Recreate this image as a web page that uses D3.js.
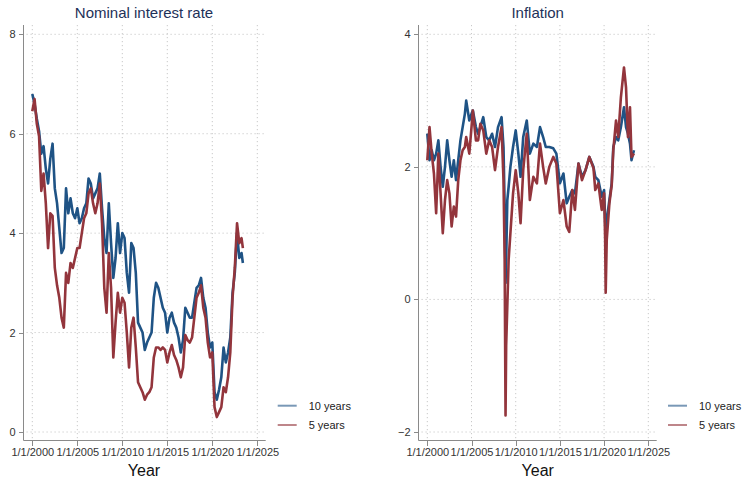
<!DOCTYPE html>
<html>
<head>
<meta charset="utf-8">
<script src="https://cdn.jsdelivr.net/npm/d3@7"></script>
<style>
  body { margin: 0; background: #fff; }
  text { font-family: "Liberation Sans", Arial, sans-serif; }
  .grid line { stroke: #c9c9c9; stroke-width: 1; stroke-dasharray: 1.2,2.8; }
  .axis path, .axis line { stroke: #8a8a8a; stroke-width: 1; shape-rendering: crispEdges; }
  .axis text { font-size: 11px; fill: #333; }
</style>
</head>
<body>
<div id="chart"></div>
<script>
// decimal years
var rateDates = [2000.00,2000.25,2000.50,2000.75,2001.00,2001.25,2001.50,2001.75,2002.00,2002.25,2002.50,2002.75,
  2003.00,2003.25,2003.50,2003.75,2004.00,2004.25,2004.50,2004.75,2005.00,2005.25,2005.50,2005.75,
  2006.00,2006.25,2006.50,2006.75,2007.00,2007.25,2007.50,2007.75,2008.00,2008.25,2008.50,2008.75,
  2009.00,2009.25,2009.50,2009.75,2010.00,2010.25,2010.50,2010.75,2011.00,2011.25,2011.50,2011.75,
  2012.00,2012.25,2012.50,2012.75,2013.00,2013.25,2013.50,2013.75,2014.00,2014.25,2014.50,2014.75,
  2015.00,2015.25,2015.50,2015.75,2016.00,2016.25,2016.50,2016.75,2017.00,2017.25,2017.50,2017.75,
  2018.00,2018.25,2018.50,2018.75,2019.00,2019.25,2019.50,2019.75,2020.00,2020.25,2020.50,2020.75,
  2021.00,2021.25,2021.50,2021.75,2022.00,2022.25,2022.50,2022.75,2023.00,2023.25,2023.40];
var rate10 = [6.80,6.60,6.30,6.05,5.60,5.75,5.30,5.00,5.50,5.80,4.90,4.60,
  4.10,3.60,3.70,4.90,4.40,4.70,4.40,4.30,4.50,4.20,4.30,4.50,
  4.60,5.10,5.00,4.70,4.80,4.90,5.20,4.50,3.90,3.60,4.60,3.80,
  3.10,3.50,4.20,3.60,4.00,3.90,3.20,2.80,3.80,3.70,3.20,2.20,
  2.10,2.00,1.65,1.80,1.90,2.00,2.70,3.00,2.90,2.70,2.50,2.40,
  2.00,2.30,2.40,2.20,2.10,1.90,1.60,1.85,2.50,2.40,2.30,2.30,
  2.60,2.90,2.95,3.10,2.70,2.50,2.00,1.70,1.80,0.80,0.65,0.85,
  1.10,1.70,1.40,1.60,1.90,2.80,3.20,4.00,3.50,3.60,3.40];
var rate5 = [6.45,6.70,6.20,5.95,4.85,5.20,4.60,3.70,4.40,4.35,3.30,2.95,
  2.70,2.30,2.10,3.20,3.00,3.40,3.30,3.50,3.70,3.70,4.00,4.30,
  4.40,4.80,4.90,4.60,4.40,4.60,5.00,4.20,2.90,2.40,3.60,2.90,
  1.50,2.20,2.80,2.40,2.70,2.60,2.00,1.30,2.10,2.30,1.70,1.00,
  0.90,0.80,0.65,0.75,0.80,0.90,1.50,1.70,1.70,1.65,1.70,1.65,
  1.40,1.60,1.75,1.55,1.45,1.30,1.10,1.30,1.95,1.85,1.80,1.90,
  2.30,2.70,2.80,2.95,2.50,2.30,1.80,1.50,1.60,0.50,0.30,0.40,
  0.50,0.90,0.80,1.10,1.60,2.70,3.30,4.20,3.80,3.90,3.70];

var inflDates = [2000.00,2000.25,2000.50,2000.75,2001.00,2001.25,2001.50,2001.75,2002.00,2002.25,2002.50,2002.75,
  2003.00,2003.25,2003.50,2003.75,2004.00,2004.25,2004.40,2004.75,2005.00,2005.15,2005.50,2005.75,
  2006.00,2006.33,2006.67,2007.00,2007.33,2007.66,2008.00,2008.40,2008.62,2008.75,2008.85,2008.92,
  2009.05,2009.20,2009.40,2009.70,2010.00,2010.30,2010.55,2010.85,2011.25,2011.60,2012.00,2012.40,
  2012.75,2013.10,2013.40,2013.80,2014.25,2014.60,2015.00,2015.40,2015.77,2016.06,2016.40,2016.70,
  2017.10,2017.50,2017.90,2018.33,2018.80,2019.00,2019.35,2019.73,2020.00,2020.12,2020.18,2020.30,
  2020.60,2020.86,2021.04,2021.35,2021.60,2021.90,2022.25,2022.48,2022.70,2022.93,2023.10,2023.38];
var infl10 = [2.50,2.10,2.25,2.10,2.20,2.40,2.00,1.70,2.00,2.40,2.10,1.85,
  2.10,1.80,2.10,2.40,2.60,2.80,3.00,2.70,2.80,2.85,2.60,2.50,
  2.60,2.75,2.45,2.40,2.50,2.30,2.60,2.75,2.30,1.40,0.25,0.60,
  1.50,1.70,2.00,2.30,2.55,2.20,1.85,2.45,2.70,2.20,2.35,2.30,
  2.60,2.45,2.30,2.30,2.28,2.20,1.75,1.90,1.45,1.55,1.65,1.60,
  2.05,1.85,1.95,2.15,2.00,1.85,1.80,1.55,1.65,1.20,0.85,1.20,
  1.50,1.75,2.30,2.45,2.40,2.60,2.90,2.60,2.50,2.35,2.10,2.25];
var infl5 = [2.10,2.60,2.20,1.90,1.30,2.20,1.60,1.00,1.50,1.80,1.60,1.10,
  1.40,1.25,1.80,2.10,2.25,2.30,2.45,2.20,2.60,2.85,2.40,2.40,
  2.65,2.55,2.20,2.40,2.30,1.95,2.30,2.60,1.80,0.60,-1.75,-0.70,
  -0.10,0.60,1.00,1.60,1.95,1.60,1.15,1.95,2.50,1.50,1.85,1.75,
  2.35,2.00,1.75,2.00,2.15,2.05,1.30,1.50,1.10,1.02,1.65,1.35,
  2.05,1.80,1.95,2.15,1.98,1.65,1.75,1.35,1.60,0.90,0.10,0.90,
  1.45,1.72,2.25,2.70,2.45,3.05,3.50,3.20,2.45,2.90,2.15,2.20];

var seriesNames = ["10 years", "5 years"];
var seriesColors = ["#1f5385", "#93353c"];
var xTickYears = [2000, 2005, 2010, 2015, 2020, 2025];

function toDate(y) {
  var yr = Math.floor(y);
  var start = new Date(yr, 0, 1), end = new Date(yr + 1, 0, 1);
  return new Date(start.getTime() + (y - yr) * (end - start));
}

var svg = d3.select("#chart").append("svg")
  .attr("width", 743).attr("height", 479);

function panel(opt) {
  var g = svg.append("g");
  var x = d3.scaleTime()
    .domain([new Date(2000, 0, 1), new Date(2025, 0, 1)])
    .range([opt.x0, opt.x1]);
  var y = d3.scaleLinear().domain(opt.yDomain).range([432, 34.3]);
  var top = 25, bottom = 440.5;

  // dotted grid
  var grid = g.append("g").attr("class", "grid");
  grid.selectAll("line.v").data(xTickYears).enter().append("line")
    .attr("x1", d => x(new Date(d, 0, 1))).attr("x2", d => x(new Date(d, 0, 1)))
    .attr("y1", top).attr("y2", bottom);
  grid.selectAll("line.h").data(opt.yTicks).enter().append("line")
    .attr("x1", opt.axisX + 3).attr("x2", opt.axisEnd)
    .attr("y1", d => y(d)).attr("y2", d => y(d));

  // lines: 10 years first, 5 years on top
  var line = d3.line().x(d => x(toDate(d[0]))).y(d => y(d[1]));
  [opt.s10, opt.s5].forEach(function (vals, i) {
    g.append("path")
      .datum(opt.dates.map((d, j) => [d, vals[j]]))
      .attr("fill", "none")
      .attr("stroke", seriesColors[i])
      .attr("stroke-width", 2.6)
      .attr("stroke-linejoin", "round")
      .attr("d", line);
  });

  // axes
  var yAxis = d3.axisLeft(y).tickValues(opt.yTicks).tickSize(5).tickPadding(3)
    .tickFormat(d => d < 0 ? "\u2212" + Math.abs(d) : d);
  var ya = g.append("g").attr("class", "axis")
    .attr("transform", "translate(" + opt.axisX + ",0)")
    .call(yAxis);
  ya.select(".domain").remove();
  g.append("line")
    .attr("x1", opt.axisX).attr("x2", opt.axisX).attr("y1", top).attr("y2", bottom)
    .attr("stroke", "#8a8a8a");

  var xAxis = d3.axisBottom(x).tickValues(xTickYears.map(d => new Date(d, 0, 1)))
    .tickSize(5).tickPadding(3).tickFormat(d => "1/1/" + d.getFullYear());
  var xa = g.append("g").attr("class", "axis")
    .attr("transform", "translate(0," + bottom + ")")
    .call(xAxis);
  xa.select(".domain").remove();
  g.append("line")
    .attr("x1", opt.axisX).attr("x2", opt.axisEnd).attr("y1", bottom).attr("y2", bottom)
    .attr("stroke", "#8a8a8a");

  // titles
  g.append("text").attr("x", opt.titleX).attr("y", 18)
    .attr("text-anchor", "middle").style("font-size", "15px").attr("fill", "#1e3158")
    .text(opt.title);
  g.append("text").attr("x", opt.titleX).attr("y", 476)
    .attr("text-anchor", "middle").style("font-size", "16px").attr("fill", "#111")
    .text("Year");

  // legend
  seriesNames.forEach(function (nm, i) {
    var ly = 405.7 + i * 19.3;
    g.append("line").attr("x1", opt.legX).attr("x2", opt.legX + 19)
      .attr("y1", ly).attr("y2", ly)
      .attr("stroke", seriesColors[i]).attr("stroke-width", 2).attr("stroke-opacity", 0.6);
    g.append("text").attr("x", opt.legX + 31).attr("y", ly + 4)
      .style("font-size", "11px").attr("fill", "#222").text(nm);
  });
}

panel({
  title: "Nominal interest rate", titleX: 144,
  x0: 32.3, x1: 257.3, axisX: 23.5, axisEnd: 265.7,
  yDomain: [0, 8], yTicks: [0, 2, 4, 6, 8],
  dates: rateDates, s10: rate10, s5: rate5, legX: 277.7
});
panel({
  title: "Inflation", titleX: 537.7,
  x0: 427.3, x1: 648.3, axisX: 418.5, axisEnd: 656.7,
  yDomain: [-2, 4], yTicks: [-2, 0, 2, 4],
  dates: inflDates, s10: infl10, s5: infl5, legX: 668
});
</script>
</body>
</html>
